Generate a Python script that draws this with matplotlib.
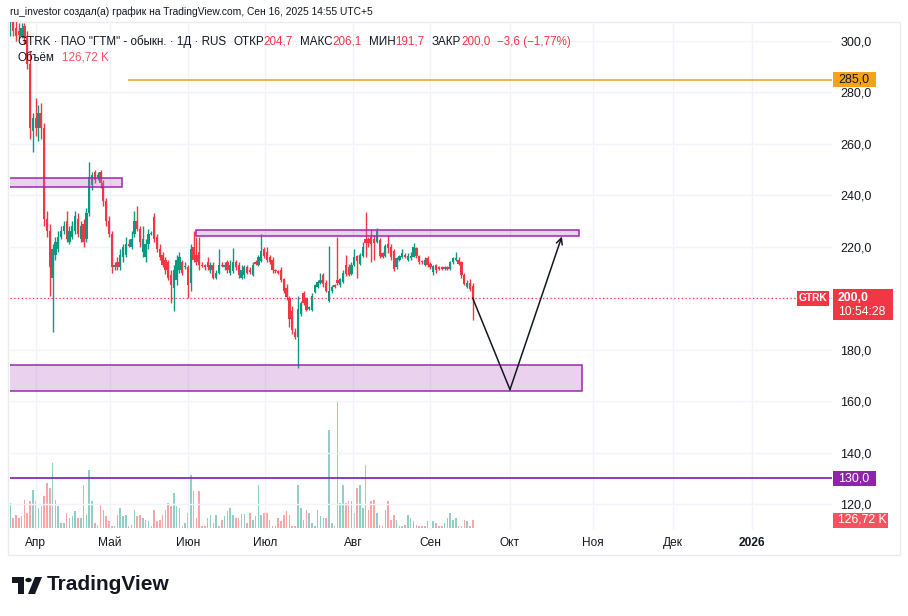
import matplotlib
matplotlib.use("Agg")
import matplotlib.pyplot as plt
from matplotlib.patches import Rectangle, Polygon, Circle
import numpy as np

plt.rcParams['font.family'] = ['Liberation Sans', 'DejaVu Sans']

# ---------------- data ----------------
opens = [304, 309, 305, 304, 302, 306, 302, 291, 265, 270,
         266, 272, 266, 231, 226, 208, 217, 219, 224, 226,
         230, 222, 224, 226, 231, 223, 229, 223, 233, 244,
         249, 247, 249, 245, 238, 230, 225, 212, 214, 212,
         216, 217, 221, 220, 225, 230, 227, 218, 216, 221,
         225, 231.5, 224, 219, 217, 215, 214, 209, 204, 207,
         211, 214, 212, 212, 206, 220, 217, 218, 213, 213,
         214, 211, 213, 208, 210, 213, 212, 214, 210, 210.5,
         214, 213, 208, 209, 212, 211, 209, 214, 213, 214.5,
         219, 218, 216, 215, 211, 210.5, 211, 207.5, 204, 200,
         195, 187, 185, 194, 202, 200, 196, 195.5, 202.5, 204.5,
         206, 209, 206, 199, 203, 205, 207, 205, 206.5, 213,
         212, 209.5, 213, 216.5, 213.5, 216.5, 223, 223, 224, 223,
         222, 222.5, 217.5, 216.5, 221, 220, 218.5, 212, 215, 216,
         217, 215, 215.5, 216.2, 219.5, 216.5, 214.5, 213, 215.5, 213.5,
         210.3, 213, 212, 212, 211.3, 212, 211.5, 214, 215, 215,
         214, 209, 204.5, 206, 204.7]
highs = [312, 311, 309, 307, 307, 307, 304, 296, 272, 278,
         275, 276, 268, 234, 229, 221, 224, 226, 228, 230,
         234, 228, 230, 234, 233, 230, 231, 235, 253, 249,
         250, 249, 250, 246, 239, 232, 226, 214, 216, 219,
         221, 224, 223, 226, 234, 236, 228, 228, 223, 227,
         226, 233, 225, 221, 218, 216, 215, 211, 213, 217,
         218, 215, 214, 213, 221, 226, 224, 224, 214, 213.5,
         216, 214, 214, 211, 219, 214, 214, 215, 215, 219.5,
         215, 214, 213, 213, 213, 212, 214, 215, 217, 225,
         220, 220, 217, 216, 211.5, 211, 212, 208, 205.5, 201,
         197, 188.5, 201, 199, 203, 200.5, 197, 202, 205.5, 207,
         210, 210, 207, 220.5, 205, 205.5, 224, 208, 211, 217,
         213.5, 214, 219, 216.8, 217.5, 222, 233.6, 224, 227, 224.5,
         227.5, 223.5, 218, 221, 224.5, 221, 219, 216, 217, 219,
         217.5, 217.5, 218, 221.5, 220, 217, 215, 216, 216.5, 214,
         213, 213.5, 212.5, 212.5, 212.5, 212.5, 214.5, 216, 218, 216,
         214.5, 210, 207, 207.5, 206.1]
lows = [302, 302, 300, 301, 301, 299, 289, 262, 257, 263,
        261, 262, 228, 224, 201, 187, 215, 218, 223, 225,
        222, 221, 223, 225, 224, 222, 220, 222, 232, 242,
        245, 246, 243, 236, 228, 224, 210, 211, 211, 211,
        214, 216, 220, 219, 224, 226, 220, 216, 214, 219,
        224.5, 222, 218, 215, 212, 209.5, 207, 198, 195, 205,
        210, 209, 211.5, 200, 203, 214, 213, 211, 212, 211,
        211, 210, 207.5, 207.5, 209.5, 212, 211, 210, 209, 210,
        211, 208, 207.5, 208, 209.5, 209.5, 208.5, 213, 212.5, 214,
        215.5, 214, 213.5, 210, 210, 209.5, 206.5, 202, 199.5, 189,
        186, 184, 173, 193, 197.5, 195, 195.5, 195, 202, 204,
        205.5, 204.5, 202.5, 198.5, 202, 204, 205, 204.5, 206, 208.5,
        208.5, 209, 212.5, 208, 213, 216, 216, 220, 214, 215,
        221.5, 215.5, 215.5, 216, 217.5, 215, 210.5, 211.5, 214.5, 215.5,
        215.5, 214.5, 215, 216, 215.5, 213.5, 213.5, 212.5, 212, 211.5,
        209, 210, 211, 211, 211, 211, 211, 213.5, 214.5, 213,
        208, 205, 204, 203, 191.7]
closes = [309, 304, 302, 302.5, 305, 301, 291, 266, 270, 266,
          272, 266, 231, 226, 212, 219, 222, 224, 226, 228,
          223, 226, 228, 232, 225, 228, 222, 233, 247, 248,
          246, 248, 245, 238, 230, 225, 212, 213, 212, 217,
          220, 221, 220.5, 223, 230, 227, 222, 223, 221, 225,
          225, 223, 219, 216, 213, 211, 208, 205, 211, 215,
          216, 210, 212, 205, 219, 215, 214, 213, 212.5, 212,
          212, 213, 208, 210, 213, 212.5, 213, 211, 213, 214,
          212, 209, 211, 212, 210, 210.3, 213, 213.5, 216, 218.5,
          216.5, 215, 214, 211, 210.5, 210, 207, 203, 200.5, 192,
          187.5, 185, 196, 198, 198, 195.5, 196.5, 201, 205, 206.5,
          207, 205.5, 203, 203, 204.5, 204.5, 206, 207.5, 210, 209.5,
          209, 213, 216, 214.5, 216.8, 220, 221.5, 221.5, 221, 221.5,
          226, 216.5, 216, 220.5, 219.5, 216, 211.5, 215.5, 216.5, 217.5,
          216, 216.5, 216.5, 220, 216.5, 214, 214, 215, 213, 212,
          212.5, 211, 211.5, 211.3, 212, 211.5, 214, 215.5, 215.5, 213.5,
          209, 205.5, 206, 203.6, 200.0]
volumes_k = [396, 158, 206, 158, 190, 444, 238, 428, 602, 428,
             317, 348, 507, 713, 634, 1030, 444, 348, 79, 79,
             238, 158, 190, 269, 158, 158, 681, 206, 919, 428,
             79, 48, 364, 285, 190, 111, 32, 32, 206, 317,
             190, 206, 32, 48, 285, 190, 206, 158, 127, 111,
             32, 285, 111, 127, 206, 285, 396, 348, 554, 348,
             317, 32, 79, 238, 840, 586, 158, 586, 32, 32,
             158, 206, 79, 206, 32, 127, 190, 269, 317, 206,
             158, 158, 222, 222, 79, 238, 127, 190, 681, 206,
             238, 238, 127, 32, 32, 158, 111, 206, 269, 206,
             32, 32, 681, 317, 127, 285, 238, 79, 32, 285,
             190, 158, 158, 1552, 79, 32, 1996, 396, 681, 396,
             428, 428, 238, 634, 681, 317, 998, 285, 428, 444,
             238, 48, 32, 285, 428, 127, 206, 127, 32, 32,
             48, 206, 158, 111, 48, 32, 32, 32, 111, 111,
             111, 79, 32, 32, 79, 158, 238, 127, 158, 32,
             32, 127, 111, 32, 126.72]

month_labels = ['Апр', 'Май', 'Июн', 'Июл', 'Авг', 'Сен', 'Окт', 'Ноя', 'Дек', '2026']
month_pos = [9.1, 35.4, 63.0, 90.3, 121.5, 148.8, 177.2, 206.6, 235.0, 263.0]
price_ticks = [120, 140, 160, 180, 200, 220, 240, 260, 280, 300]

level_orange = 285.0
level_purple = 130.0
# zones: (x_start, x_end, low, high)
zones = [(-2.0, 39.6, 243.2, 246.7),
         (65.9, 201.7, 224.2, 226.5),
         (-2.0, 202.7, 164.0, 174.0)]
proj_x = [164, 177.2, 195.6]
proj_y = [200.0, 164.5, 224.0]

header = 'ru_investor создал(а) график на TradingView.com, Сен 16, 2025 14:55 UTC+5'
symbol_desc = 'GTRK · ПАО "ГТМ" - обыкн. · 1Д · RUS'
countdown = '10:54:28'

# ---------------- style ----------------
UP = '#089981'
DN = '#f23645'
VUP = '#8fcfc8'
VDN = '#f6a6a9'
TXT = '#131722'

W, H = 908, 616
fig = plt.figure(figsize=(W / 100, H / 100), dpi=100)
fig.patch.set_facecolor('white')


def fx(x):
    return x / W


def fy(y):
    return 1 - y / H


L, R, T, B = 10, 832, 22, 530
YLO, YHI = 109.9, 307.4
XLO, XHI = -0.1, 291.4

ax = fig.add_axes([fx(L), fy(B), (R - L) / W, (B - T) / H])
vax = ax.twinx()
ax.set_zorder(2)
vax.set_zorder(1)
ax.patch.set_visible(False)
vax.patch.set_visible(False)

n = len(closes)
idx = np.arange(n)
o = np.array(opens, float)
h = np.array(highs, float)
l = np.array(lows, float)
c = np.array(closes, float)
up = c >= o
col = np.where(up, UP, DN)

# volume
vscale = 15.84  # K per pixel
vax.bar(idx, volumes_k, width=0.55, color=np.where(up, VUP, VDN), lw=0)
vax.set_ylim(-2 * vscale, (B - T - 2) * vscale)
vax.axis('off')

# candles
ax.vlines(idx, l, h, colors=col, lw=1.0, zorder=3)
body_b = np.minimum(o, c)
body_h = np.maximum(np.abs(c - o), 0.5)
ax.bar(idx, body_h, bottom=body_b, width=0.82, color=col, lw=0, zorder=4)

# drawings
for x0, x1, y0, y1 in zones:
    ax.add_patch(Rectangle((x0, y0), x1 - x0, y1 - y0, facecolor=(0.73, 0.41, 0.78, 0.30),
                           edgecolor='#9c27b0', lw=1.1, zorder=5))
ax.hlines(level_orange, 41.7, XHI, color='#f59d1a', lw=1.1, zorder=5)
ax.axhline(level_purple, color='#7b1fa2', lw=1.2, zorder=5)
ax.axhline(c[-1], color=DN, lw=0.9, ls=(0, (1, 2)), zorder=5)
ax.plot(proj_x[:2], proj_y[:2], color=TXT, lw=1.1, zorder=6)
ax.annotate('', xy=(proj_x[2], proj_y[2]), xytext=(proj_x[1], proj_y[1]),
            arrowprops=dict(arrowstyle='->', lw=1.1, color=TXT, mutation_scale=11,
                            shrinkA=0, shrinkB=0), zorder=6)

ax.set_xlim(XLO, XHI)
ax.set_ylim(YLO, YHI)
for s in ax.spines.values():
    s.set_visible(False)
ax.yaxis.tick_right()
ax.set_yticks(price_ticks)
# the 200 label is hidden under the current-price marker in the reference
ax.set_yticklabels(['' if v == 200 else f'{v:.1f}'.replace('.', ',') for v in price_ticks])
ax.set_xticks(month_pos)
ax.set_xticklabels(month_labels)
ax.tick_params(axis='y', length=0, pad=6, labelsize=9, labelcolor=TXT)
ax.tick_params(axis='x', length=0, pad=5, labelsize=8.6, labelcolor=TXT)
ax.get_xticklabels()[-1].set_fontweight('bold')
ax.grid(True, color='#f0f3fa', lw=1)
ax.set_axisbelow(True)


def price_px(p):
    return T + (YHI - p) / (YHI - YLO) * (B - T)


def vol_px(v):
    lo, hi = -2 * vscale, (B - T - 2) * vscale
    return B - (v - lo) / (hi - lo) * (B - T)


def box(x0, x1, yc, hgt, color, text, tcolor, weight='normal', fs=9, center=False):
    fig.add_artist(Rectangle((fx(x0), fy(yc + hgt / 2)), (x1 - x0) / W, hgt / H,
                             transform=fig.transFigure, facecolor=color, lw=0, zorder=10))
    if center:
        fig.text(fx((x0 + x1) / 2), fy(yc), text, color=tcolor, fontsize=fs, fontweight=weight,
                 ha='center', va='center', zorder=11)
    else:
        fig.text(fx(x0 + 5), fy(yc), text, color=tcolor, fontsize=fs, fontweight=weight,
                 ha='left', va='center', zorder=11)


def fmt(v, d=1):
    return f'{v:.{d}f}'.replace('.', ',')


box(833, 876, price_px(level_orange), 15, '#f7a21b', fmt(level_orange), TXT)
box(833, 876, price_px(level_purple), 15, '#8e24aa', fmt(level_purple), 'white')
box(797, 829, price_px(c[-1]), 15, DN, 'GTRK', 'white', weight='bold', fs=7.4, center=True)
# current price box (two lines)
yc = price_px(c[-1])
fig.add_artist(Rectangle((fx(833), fy(yc + 22)), 60 / W, 31 / H, transform=fig.transFigure,
                         facecolor=DN, lw=0, zorder=10))
fig.text(fx(838), fy(yc), fmt(c[-1]), color='white', fontsize=8.8, fontweight='bold',
         ha='left', va='center', zorder=11)
fig.text(fx(838), fy(yc + 14), countdown, color='white', fontsize=8.8,
         ha='left', va='center', zorder=11)
box(833, 888, vol_px(volumes_k[-1]), 15, '#f7525f', fmt(volumes_k[-1], 2) + ' K', 'white', fs=8.8)

# frame
fig.add_artist(Rectangle((fx(8), fy(555)), (900 - 8) / W, (555 - 22) / H, fill=False,
                         edgecolor='#e9ebf0', lw=1, transform=fig.transFigure, zorder=1))

renderer = fig.canvas.get_renderer()


def fit_text(x, y, s, target_w, fs, **kw):
    t = fig.text(fx(x), fy(y), s, fontsize=fs, ha='left', va='center', **kw)
    w = t.get_window_extent(renderer=renderer).width
    t.set_fontsize(fs * target_w / w)
    return t


def seq(x, y, parts, fs):
    for s, colr, g in parts:
        x += g
        t = fig.text(fx(x), fy(y), s, color=colr, fontsize=fs, ha='left', va='center', zorder=12)
        x += t.get_window_extent(renderer=renderer).width


fit_text(10, 12, header, 362, 8.5, color=TXT)

chg = c[-1] - c[-2]
pct = chg / c[-2] * 100


def sgn(v, d=1):
    return ('−' if v < 0 else '+') + fmt(abs(v), d)


fs_leg = 8.4
parts = [(symbol_desc, TXT, 0),
         ('ОТКР', TXT, 7), (fmt(o[-1]), DN, 0),
         ('МАКС', TXT, 7), (fmt(h[-1]), DN, 0),
         ('МИН', TXT, 7), (fmt(l[-1]), DN, 0),
         ('ЗАКР', TXT, 7), (fmt(c[-1]), DN, 0),
         (f'{sgn(chg)} ({sgn(pct, 2)}%)', DN, 7)]
seq(18, 42, parts, fs_leg)
seq(18, 58, [('Объём', TXT, 0), (fmt(volumes_k[-1], 2) + ' K', '#f7525f', 7)], fs_leg)

# TradingView logo
fig.add_artist(Polygon([(fx(12), fy(577)), (fx(24), fy(577)), (fx(24), fy(594)), (fx(18), fy(594)),
                        (fx(18), fy(583)), (fx(12), fy(583))], closed=True, transform=fig.transFigure,
                       facecolor=TXT, lw=0))
fig.add_artist(Circle((fx(28.5), fy(580)), 3.2 / W, transform=fig.transFigure, facecolor=TXT, lw=0))
fig.add_artist(Polygon([(fx(35), fy(577)), (fx(42), fy(577)), (fx(35), fy(594)), (fx(28), fy(594))],
                       closed=True, transform=fig.transFigure, facecolor=TXT, lw=0))
fit_text(47, 585, 'TradingView', 123, 15, color=TXT, fontweight='bold')

fig.savefig('out.png', dpi=100)
